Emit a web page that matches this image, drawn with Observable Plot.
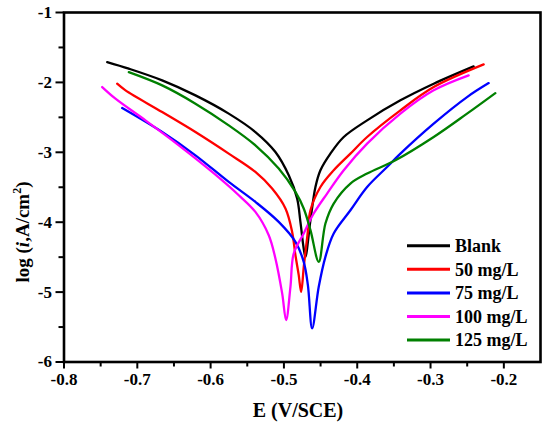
<!DOCTYPE html>
<html>
<head>
<meta charset="utf-8">
<script src="https://cdn.jsdelivr.net/npm/d3@7"></script>
<script src="https://cdn.jsdelivr.net/npm/@observablehq/plot@0.6"></script>
<style>
  body { margin: 0; background: #fff; }
</style>
</head>
<body>
<div id="chart"></div>
<script>
const seriesNames = ["Blank", "50 mg/L", "75 mg/L", "100 mg/L", "125 mg/L"];
const seriesColors = ["#000000", "#ff0000", "#0000ff", "#ff00ff", "#008000"];

const blankE = [-0.7411, -0.7116, -0.6661, -0.6207, -0.5753, -0.5389, -0.5116, -0.4934, -0.4820, -0.4775, -0.4730, -0.4707,
  -0.4638, -0.4570, -0.4502, -0.4366, -0.4184, -0.3865, -0.3411, -0.2957, -0.2412];
const blankLogI = [-1.710, -1.804, -1.971, -2.186, -2.447, -2.710, -2.996, -3.329, -3.661, -3.996, -4.376, -4.496,
  -3.971, -3.496, -3.257, -3.019, -2.781, -2.543, -2.257, -2.019, -1.771];

const mg50E = [-0.7275, -0.7161, -0.6661, -0.6207, -0.5753, -0.5389, -0.5161, -0.4979, -0.4888, -0.4843, -0.4798, -0.4765,
  -0.4727, -0.4679, -0.4638, -0.4502, -0.4321, -0.4093, -0.3865, -0.3411, -0.2957, -0.2275];
const mg50LogI = [-2.019, -2.114, -2.424, -2.710, -3.019, -3.281, -3.519, -3.804, -4.139, -4.471, -4.757, -4.996,
  -4.614, -4.186, -3.829, -3.496, -3.257, -3.019, -2.781, -2.400, -2.067, -1.743];

const mg75E = [-0.7206, -0.6661, -0.6207, -0.5753, -0.5389, -0.5071, -0.4843, -0.4730, -0.4673, -0.4615,
  -0.4525, -0.4434, -0.4321, -0.4093, -0.3865, -0.3593, -0.3411, -0.2957, -0.2502, -0.2207];
const mg75LogI = [-2.367, -2.710, -3.043, -3.424, -3.710, -3.996, -4.281, -4.567, -4.900, -5.519,
  -4.924, -4.496, -4.161, -3.829, -3.496, -3.210, -3.019, -2.590, -2.210, -2.010];

const mg100E = [-0.7479, -0.7298, -0.6889, -0.6434, -0.5979, -0.5616, -0.5389, -0.5207, -0.5116, -0.5024, -0.4970,
  -0.4911, -0.4866, -0.4730, -0.4594, -0.4411, -0.4184, -0.3865, -0.3411, -0.2957, -0.2480];
const mg100LogI = [-2.067, -2.233, -2.543, -2.900, -3.281, -3.614, -3.853, -4.186, -4.519, -5.019, -5.400,
  -4.924, -4.447, -4.161, -3.876, -3.590, -3.257, -2.876, -2.447, -2.114, -1.900];

const mg125E = [-0.7116, -0.6661, -0.6207, -0.5753, -0.5389, -0.5071, -0.4843, -0.4730, -0.4638, -0.4525,
  -0.4434, -0.4321, -0.4093, -0.3865, -0.3479, -0.2957, -0.2502, -0.2116];
const mg125LogI = [-1.853, -2.043, -2.304, -2.614, -2.900, -3.233, -3.567, -3.804, -4.114, -4.567,
  -4.019, -3.733, -3.447, -3.304, -3.114, -2.781, -2.447, -2.153];

const xMajorTicks = [-0.8, -0.7, -0.6, -0.5, -0.4, -0.3, -0.2];
const xMinorTicks = [-0.75, -0.65, -0.55, -0.45, -0.35, -0.25];
const yMajorTicks = [-6, -5, -4, -3, -2, -1];
const yMinorTicks = [-5.5, -4.5, -3.5, -2.5, -1.5];

const allE = [blankE, mg50E, mg75E, mg100E, mg125E];
const allLogI = [blankLogI, mg50LogI, mg75LogI, mg100LogI, mg125LogI];

const rows = [];
seriesNames.forEach((name, i) => {
  allE[i].forEach((e, j) => rows.push({series: name, E: e, logI: allLogI[i][j]}));
});

const serif = "'Liberation Serif', 'Times New Roman', serif";

const chart = Plot.plot({
  width: 550,
  height: 431,
  marginLeft: 63.5,
  marginRight: 10,
  marginTop: 12,
  marginBottom: 69.5,
  style: {fontFamily: serif, fontWeight: "bold", fontSize: "17px", background: "white", color: "black"},
  x: {domain: [-0.8, -0.15]},
  y: {domain: [-6, -1]},
  color: {domain: seriesNames, range: seriesColors},
  marks: [
    Plot.axisX({ticks: xMinorTicks, tickSize: 5, tickFormat: () => "", strokeWidth: 2, label: null}),
    Plot.axisX({ticks: xMajorTicks, tickSize: 7, tickPadding: 4, tickFormat: d => d.toFixed(1), strokeWidth: 2, label: null, fill: "black"}),
    Plot.axisY({ticks: yMinorTicks, tickSize: 5, tickFormat: () => "", strokeWidth: 2, label: null}),
    Plot.axisY({ticks: yMajorTicks, tickSize: 8, tickPadding: 4, tickFormat: d => String(d), strokeWidth: 2, label: null, fill: "black"}),
    Plot.line(rows, {x: "E", y: "logI", z: "series", stroke: "series", strokeWidth: 2.3, curve: "catmull-rom"}),
    Plot.frame({stroke: "black", strokeWidth: 2.6})
  ]
});

const svg = d3.select(chart);

// x axis title
svg.append("text")
  .attr("x", 298).attr("y", 417)
  .attr("text-anchor", "middle")
  .attr("font-family", serif).attr("font-weight", "bold").attr("font-size", 20)
  .attr("fill", "black")
  .text("E (V/SCE)");

// y axis title
const yt = svg.append("text")
  .attr("transform", "translate(29,232) rotate(-90)")
  .attr("text-anchor", "middle")
  .attr("font-family", serif).attr("font-weight", "bold").attr("font-size", 19)
  .attr("fill", "black");
yt.append("tspan").text("log (");
yt.append("tspan").attr("font-style", "italic").text("i");
yt.append("tspan").text(",A/cm");
yt.append("tspan").attr("font-size", 12).attr("dy", -8).text("2");
yt.append("tspan").attr("dy", 8).text(")");

// legend
const lg = svg.append("g");
seriesNames.forEach((name, i) => {
  const y = 245.7 + i * 23.6;
  lg.append("line").attr("x1", 407).attr("x2", 450).attr("y1", y).attr("y2", y)
    .attr("stroke", seriesColors[i]).attr("stroke-width", 3);
  lg.append("text").attr("x", 455).attr("y", y).attr("dy", "0.35em")
    .attr("text-anchor", "start")
    .attr("font-family", serif).attr("font-weight", "bold").attr("font-size", 18)
    .attr("fill", "black").text(name);
});

document.getElementById("chart").appendChild(chart);
</script>
</body>
</html>
